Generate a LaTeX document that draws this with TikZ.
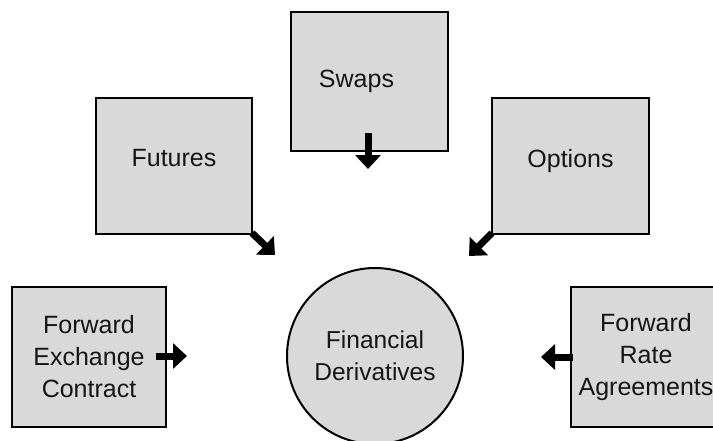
\documentclass[tikz,border=0pt]{standalone}
\usepackage{fontspec}
\setmainfont{Liberation Sans}
\usetikzlibrary{arrows.meta}
\definecolor{boxfill}{HTML}{D9D9D9}
\definecolor{txt}{HTML}{151515}
\begin{document}
\begin{tikzpicture}[x=1pt,y=-1pt,
  box/.style={draw=black,line width=2pt,fill=boxfill,rectangle,inner sep=0pt,
    text=txt,align=center,font=\fontsize{25}{32}\selectfont},
  hub/.style={draw=black,line width=2pt,fill=boxfill,circle,inner sep=0pt,
    minimum size=176pt,text=txt,align=center,font=\fontsize{24.5}{32}\selectfont},
  fat/.style={line width=7pt,-{Triangle[width=25pt,length=14pt]}}]
\useasboundingbox (0,0) rectangle (713,440);
\fill[white] (0,0) rectangle (713,440);
\node[box,minimum width=157pt,minimum height=139pt] (swaps) at (369.5,81.5) {Swaps\hspace*{26pt}};
\node[box,minimum width=156pt,minimum height=136pt] (futures) at (174,166) {Futures\\[-16pt]\mbox{}};
\node[box,minimum width=157pt,minimum height=136pt] (options) at (570.5,166) {Options\\[-16pt]\mbox{}};
\node[box,minimum width=154pt,minimum height=140pt] (fec) at (89,357) {Forward\\Exchange\\Contract};
\node[box,minimum width=150pt,minimum height=140pt,anchor=west] (fra) at (570,357) {Forward\\Rate\\Agreements};
\node[hub] (fd) at (375,356) {Financial\\Derivatives};
\coordinate (s1) at (368,133); \coordinate (s2) at (368,169);
\coordinate (f1) at (252,233); \coordinate (f2) at (275,255);
\coordinate (o1) at (492,233); \coordinate (o2) at (469,256);
\coordinate (e1) at (156,356); \coordinate (e2) at (187,356);
\coordinate (r1) at (573,357); \coordinate (r2) at (541,357);
\draw[fat] (s1) -- (s2);
\draw[fat] (f1) -- (f2);
\draw[fat] (o1) -- (o2);
\draw[fat] (e1) -- (e2);
\draw[fat] (r1) -- (r2);
\end{tikzpicture}
\end{document}
